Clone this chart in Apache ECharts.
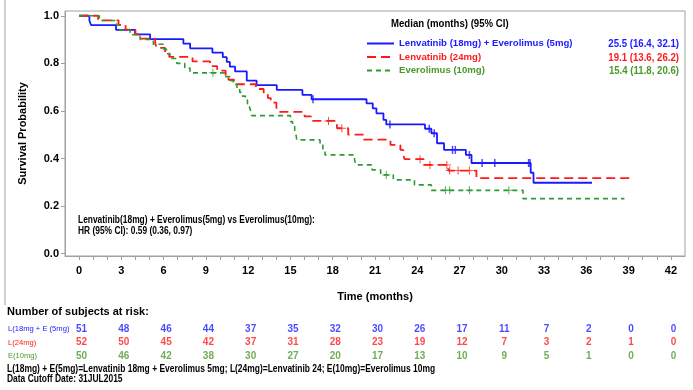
<!DOCTYPE html>
<html><head><meta charset="utf-8">
<script src="https://cdn.jsdelivr.net/npm/echarts@6/dist/echarts.min.js"></script>
<style>html,body{margin:0;padding:0;background:#fff}#c{width:693px;height:390px}</style>
</head><body><div id="c"></div>
<script>
// ---- data ----
const seriesNames = ['Lenvatinib (18mg) + Everolimus (5mg)', 'Lenvatinib (24mg)', 'Everolimus (10mg)'];
const medians = ['25.5 (16.4, 32.1)', '19.1 (13.6, 26.2)', '15.4 (11.8, 20.6)'];

const blueT = [0,0.73,0.85,2.62,3.97,5.04,7.4,7.88,9.46,10.2,10.48,10.7,11.07,11.9,12.6,14.03,15.85,16.5,20.4,20.84,21.1,21.6,21.8,24.55,25.0,25.4,25.9,27.45,27.85,32.05,32.25,36.4];
const blueS = [1.0,0.980,0.961,0.941,0.922,0.902,0.883,0.863,0.845,0.826,0.806,0.786,0.766,0.727,0.708,0.688,0.667,0.649,0.632,0.611,0.590,0.562,0.543,0.525,0.506,0.464,0.436,0.415,0.381,0.340,0.298,0.298];
const blueCensT = [16.6,22.06,24.85,25.2,26.5,26.7,27.7,28.6,29.5,31.9,32.0];
const blueCensS = [0.649,0.543,0.525,0.506,0.436,0.436,0.415,0.381,0.381,0.381,0.381];

const redT = [0,1.35,2.8,3.3,4.0,4.2,5.4,5.5,6.1,6.4,8.05,9.3,9.8,10.4,10.6,11.0,12.55,13.1,13.4,13.6,14.0,14.1,16.0,16.45,18.3,19.1,20.2,22.1,22.8,23.0,23.1,24.45,26.2,28.2,39.2];
const redS = [1.0,0.981,0.962,0.942,0.923,0.904,0.885,0.865,0.846,0.827,0.808,0.788,0.769,0.750,0.731,0.712,0.692,0.673,0.654,0.635,0.615,0.596,0.577,0.558,0.527,0.500,0.479,0.457,0.436,0.416,0.397,0.373,0.349,0.317,0.317];
const redCensT = [17.7,18.65,24.2,24.9,26.1,26.3,26.9,27.7];
const redCensS = [0.558,0.527,0.397,0.373,0.373,0.349,0.349,0.349];

const greenT = [0,1.44,2.67,2.86,3.62,4.33,5.27,5.98,6.2,6.45,6.93,7.5,7.87,10.36,10.7,10.95,11.2,11.4,11.6,11.8,11.95,12.1,12.2,12.25,15.0,15.15,15.3,15.4,15.45,17.1,17.3,17.45,19.55,19.65,20.8,21.4,22.3,23.8,25.0,31.5,38.7];
const greenS = [1.0,0.98,0.96,0.94,0.92,0.90,0.88,0.86,0.84,0.82,0.80,0.78,0.76,0.744,0.727,0.711,0.695,0.678,0.662,0.646,0.630,0.613,0.597,0.580,0.555,0.534,0.513,0.497,0.478,0.457,0.436,0.415,0.394,0.373,0.352,0.331,0.310,0.289,0.266,0.231,0.231];
const greenCensT = [9.5,21.8,26.0,26.3,27.7,30.5];
const greenCensS = [0.76,0.331,0.266,0.266,0.266,0.266];

const xTickLabels = [0,3,6,9,12,15,18,21,24,27,30,33,36,39,42];
const yTickLabels = [0,0.2,0.4,0.6,0.8,1.0];

const riskRowLabels = ['L(18mg + E (5mg)', 'L(24mg)', 'E(10mg)'];
const riskTimes = [0,3,6,9,12,15,18,21,24,27,30,33,36,39,42];
const riskL18 = [51,48,46,44,37,35,32,30,26,17,11,7,2,0,0];
const riskL24 = [52,50,45,42,37,31,28,23,19,12,7,3,2,1,0];
const riskE10 = [50,46,42,38,30,27,20,17,13,10,9,5,1,0,0];

const hrLines = ['Lenvatinib(18mg) + Everolimus(5mg) vs Everolimus(10mg):', 'HR (95% CI): 0.59 (0.36, 0.97)'];
const footLines = ['L(18mg) + E(5mg)=Lenvatinib 18mg + Everolimus 5mg; L(24mg)=Lenvatinib 24; E(10mg)=Everolimus 10mg', 'Data Cutoff Date: 31JUL2015'];

// ---- styles ----
const BLUE = '#1a1aff', RED = '#ff1a1a', GREEN = '#2f9a2f';
const GTEXT = '#4a9a2a';
const AX = '#a0a0a0';
const ARIAL = '"Liberation Sans", Arial, sans-serif';
const PLUS = 'path://M0,3.5H8V4.5H0Z M3.5,0H4.5V8H3.5Z';

const zip = (a, b) => a.map((v, i) => [v, b[i]]);
const monthTicks = []; for (let m = 0; m <= 42; m++) monthTicks.push(m);

const chart = echarts.init(document.getElementById('c'), null, {renderer: 'canvas'});

function kmLine(name, T, S, color, type, width) {
  return {name, type: 'line', step: 'end', xAxisIndex: 0, yAxisIndex: 0, data: zip(T, S),
    symbol: 'none', lineStyle: {color, type, width}, itemStyle: {color}, silent: true, z: 3};
}
function censor(T, S, color, sym, size) {
  return {type: 'scatter', xAxisIndex: 0, yAxisIndex: 0, data: zip(T, S), symbol: sym, symbolSize: size,
    itemStyle: {color}, silent: true, z: 4};
}
function riskRow(label, vals, color) {
  return {type: 'scatter', xAxisIndex: 1, yAxisIndex: 1, symbolSize: 0,
    data: riskTimes.map((t, i) => [t, label, vals[i]]),
    label: {show: true, position: 'inside', offset: [2.5, 0], formatter: p => String(p.value[2]),
      color, fontFamily: ARIAL, fontWeight: 'bold', fontSize: 10}, silent: true};
}
// condensed text (narrow look) via horizontal scaling
function ntext(x, y, text, size, color, align, sx) {
  return {type: 'text', x, y, scaleX: sx, scaleY: 1, silent: true,
    style: {x: 0, y: 0, text, fill: color, font: 'bold ' + size + 'px ' + ARIAL, textAlign: align || 'left', textVerticalAlign: 'middle'}};
}

const colors = [BLUE, RED, GTEXT];
const graphics = [
  {type: 'line', shape: {x1: 5, y1: 0, x2: 5, y2: 305}, style: {stroke: AX, lineWidth: 1}, silent: true},
  ntext(391, 23.5, 'Median (months) (95% CI)', 11, '#000', 'left', 0.875),
  ntext(78, 220, hrLines[0], 10, '#000', 'left', 0.84),
  ntext(78, 231, hrLines[1], 10, '#000', 'left', 0.84),
  {type: 'text', silent: true, style: {x: 7, y: 312, text: 'Number of subjects at risk:', fill: '#000', font: 'bold 11px ' + ARIAL, textVerticalAlign: 'middle'}},
  ntext(7, 369, footLines[0], 10.5, '#000', 'left', 0.805),
  ntext(7, 379.5, footLines[1], 10.5, '#000', 'left', 0.805)
];
medians.forEach((m, i) => graphics.push(ntext(679, 44 + i * 13.5, m, 11, colors[i], 'right', 0.875)));

chart.setOption({
  animation: false,
  backgroundColor: '#fff',
  grid: [
    {left: 65, right: 8, top: 11, bottom: 134, show: true, borderColor: AX, borderWidth: 1, backgroundColor: 'transparent', outerBoundsMode: 'none', containLabel: false},
    {left: 65, right: 8, top: 322.7, height: 40, outerBoundsMode: 'none', containLabel: false}
  ],
  legend: {
    show: true, orient: 'vertical', left: 366, top: 38.5, padding: 0, itemWidth: 27, itemHeight: 12, itemGap: 3.5,
    itemStyle: {color: 'rgba(0,0,0,0)', borderColor: 'rgba(0,0,0,0)', borderWidth: 0, opacity: 0},
    textStyle: {fontFamily: ARIAL, fontWeight: 'bold', fontSize: 9.6},
    data: seriesNames.map((n, i) => ({name: n, textStyle: {color: colors[i]}})),
    selectedMode: false
  },
  xAxis: [
    {gridIndex: 0, type: 'value', min: -1, max: 43,
      axisLine: {show: true, onZero: false, lineStyle: {color: AX}},
      axisTick: {show: true, length: 4, customValues: monthTicks, lineStyle: {color: AX}},
      axisLabel: {customValues: xTickLabels, color: '#000', fontFamily: ARIAL, fontWeight: 'bold', fontSize: 11, margin: 9},
      splitLine: {show: false},
      name: 'Time (months)', nameLocation: 'middle', nameGap: 35,
      nameTextStyle: {color: '#000', fontFamily: ARIAL, fontWeight: 'bold', fontSize: 11}},
    {gridIndex: 1, type: 'value', min: -1, max: 43, show: false}
  ],
  yAxis: [
    {gridIndex: 0, type: 'value', min: -0.01, max: 1.02,
      axisLine: {show: true, onZero: false, lineStyle: {color: AX}},
      axisTick: {show: true, length: 4, customValues: yTickLabels, lineStyle: {color: AX}},
      axisLabel: {customValues: yTickLabels, formatter: v => Number(v).toFixed(1), color: '#000', fontFamily: ARIAL, fontWeight: 'bold', fontSize: 11, margin: 6},
      splitLine: {show: false},
      name: 'Survival Probability', nameLocation: 'middle', nameGap: 37, nameRotate: 90,
      nameTextStyle: {color: '#000', fontFamily: ARIAL, fontWeight: 'bold', fontSize: 11}},
    {gridIndex: 1, type: 'category', inverse: true,
      data: riskRowLabels.map((l, i) => ({value: l, textStyle: {color: colors[i], align: 'left'}})),
      axisLine: {show: false}, axisTick: {show: false}, splitLine: {show: false},
      axisLabel: {align: 'left', margin: 57, fontFamily: ARIAL, fontSize: 7.6}}
  ],
  series: [
    kmLine(seriesNames[0], blueT, blueS, BLUE, 'solid', 1.8),
    kmLine(seriesNames[1], redT, redS, RED, [9, 5], 1.8),
    kmLine(seriesNames[2], greenT, greenS, GREEN, [5, 4], 1.6),
    censor(blueCensT, blueCensS, BLUE, 'rect', [1.5, 8]),
    censor(redCensT, redCensS, RED, PLUS, 8),
    censor(greenCensT, greenCensS, GREEN, PLUS, 8),
    riskRow(riskRowLabels[0], riskL18, BLUE),
    riskRow(riskRowLabels[1], riskL24, RED),
    riskRow(riskRowLabels[2], riskE10, GTEXT)
  ],
  graphic: graphics
});
</script></body></html>
